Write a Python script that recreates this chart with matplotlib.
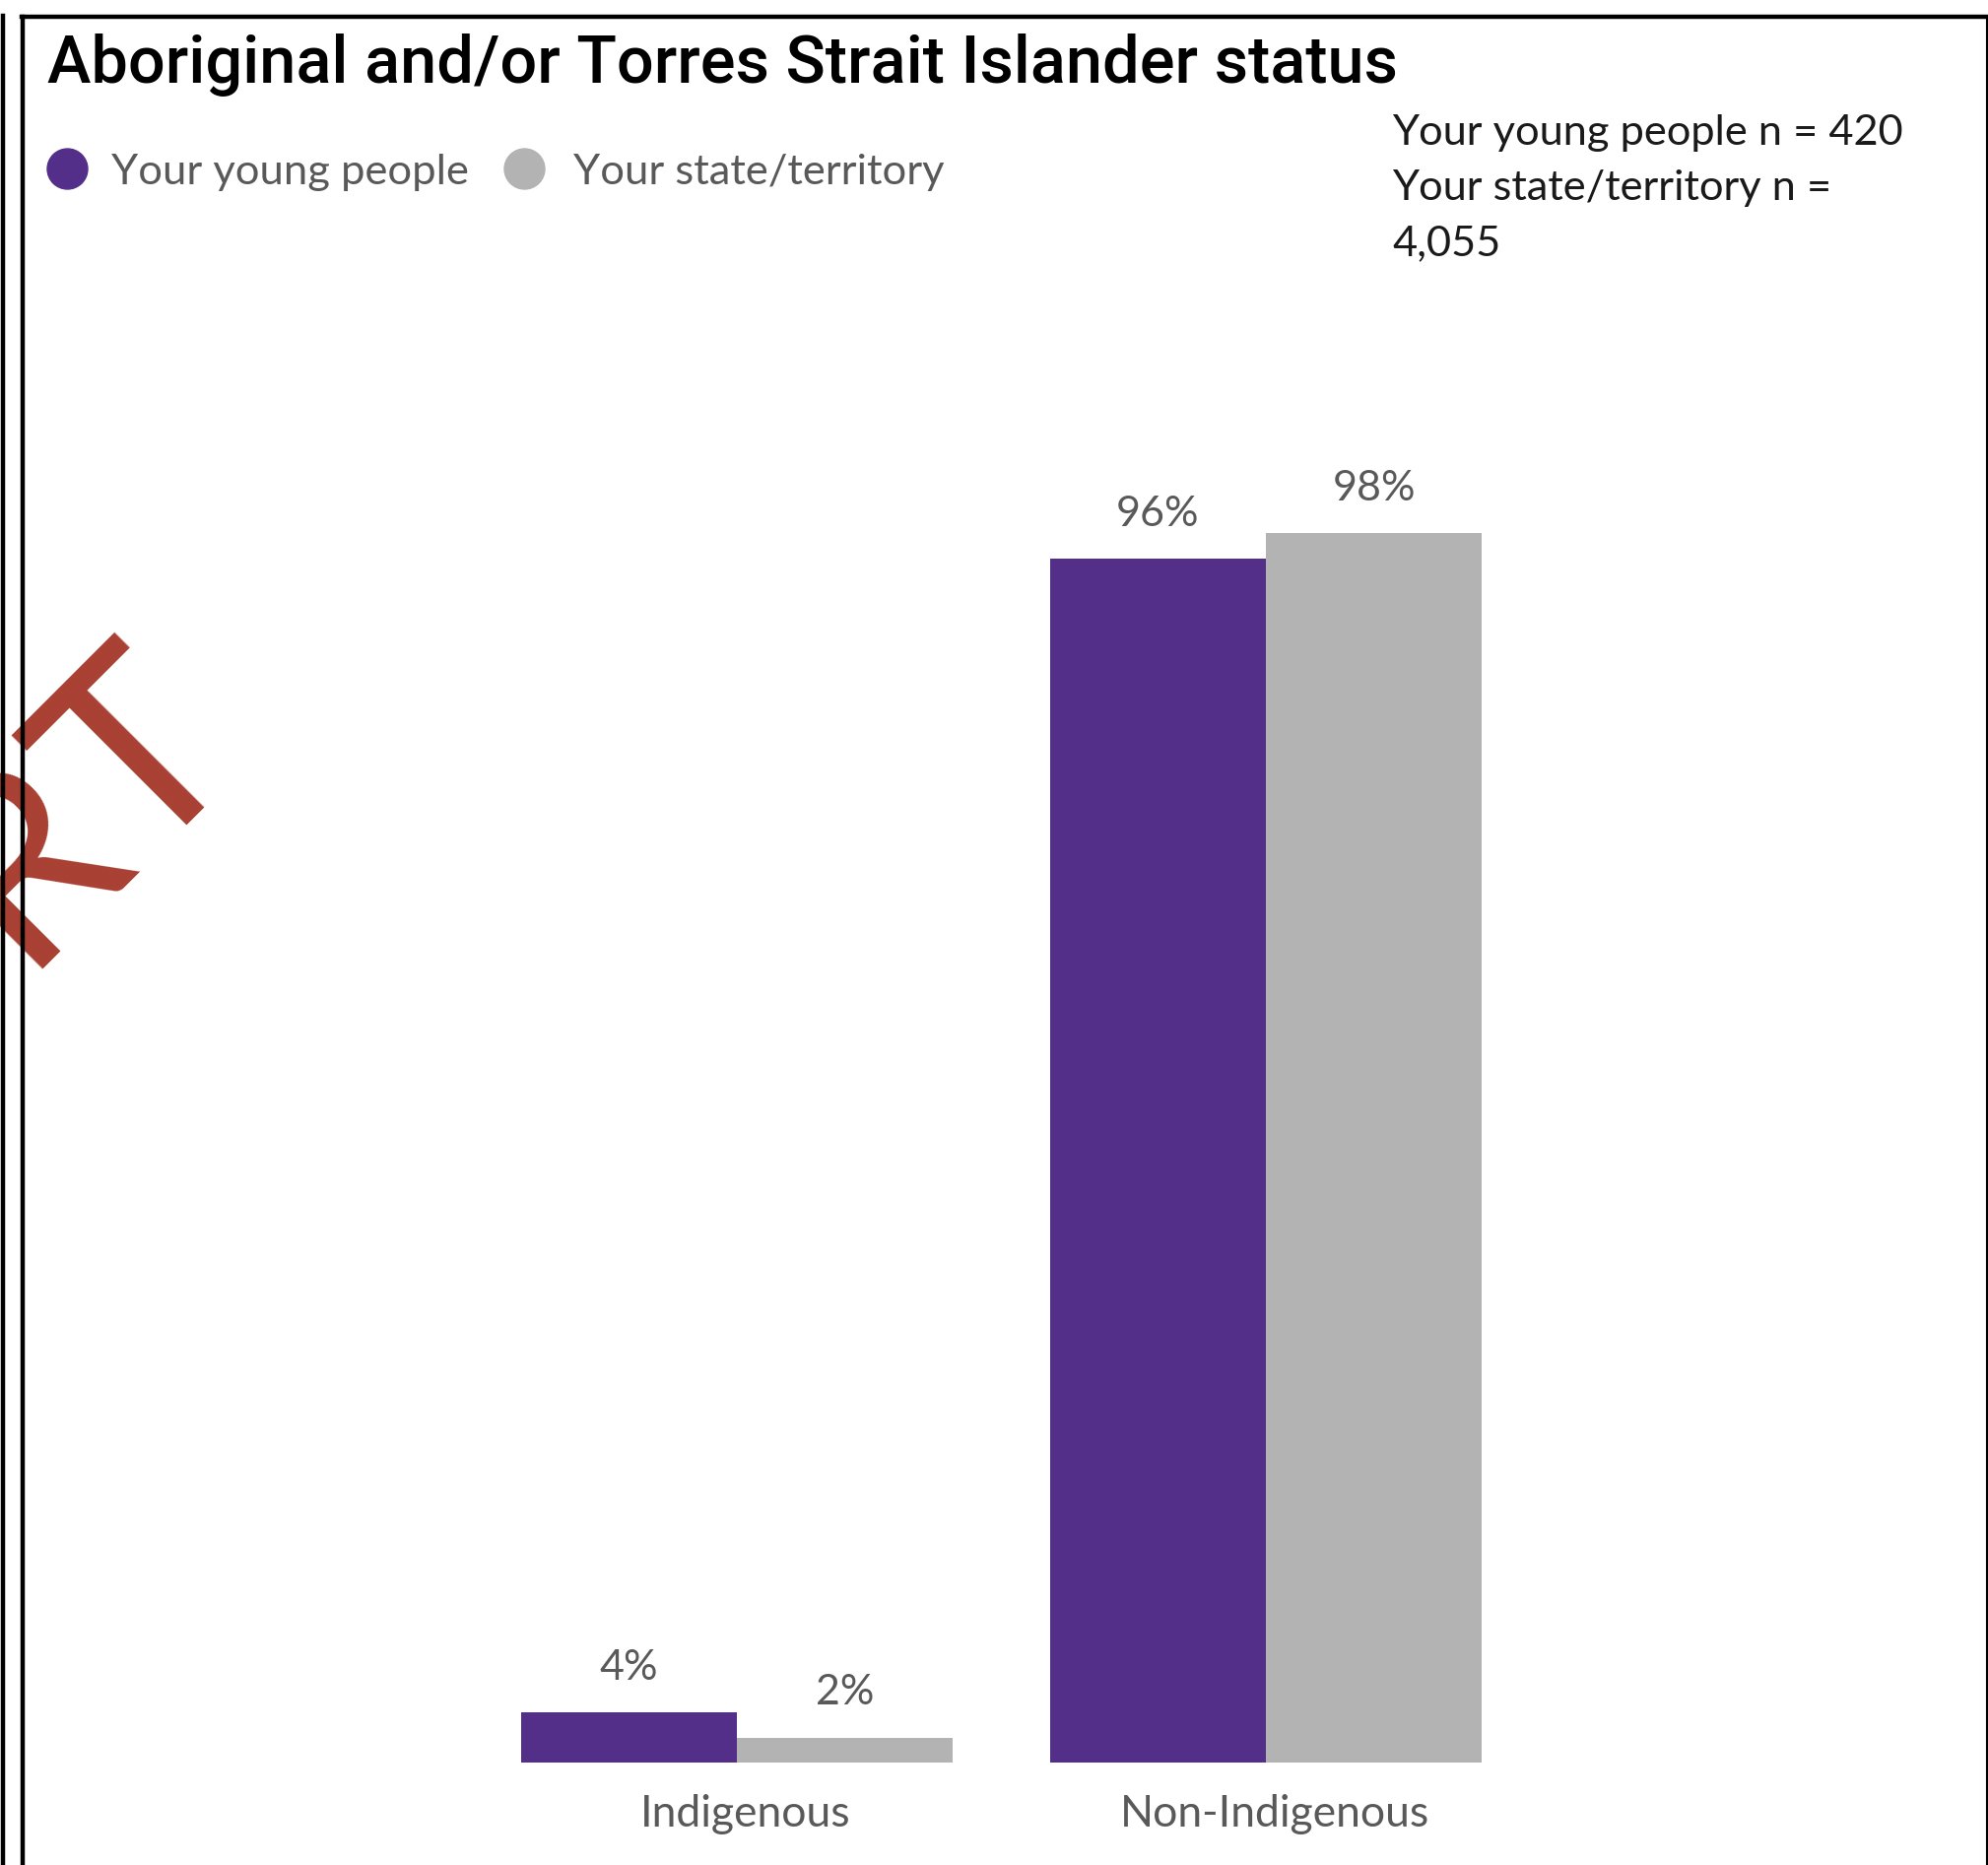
import matplotlib
matplotlib.use("Agg")
import matplotlib.pyplot as plt
from matplotlib.lines import Line2D
from matplotlib.transforms import ScaledTranslation
import numpy as np

# data
categories = ["Indigenous", "Non-Indigenous"]
series_names = ["Your young people", "Your state/territory"]
young_people = [4, 96]
state_territory = [2, 98]
n_lines = ["Your young people n = 420", "Your state/territory n =", "4,055"]
title = "Aboriginal and/or Torres Strait Islander status"

PURPLE, GREY = "#532F8A", "#B3B3B3"
LABEL = "#595959"
W, H = 2018, 1893
BODY = ["Lato", "DejaVu Sans"]

fig = plt.figure(figsize=(W / 100, H / 100), dpi=100)

def fx(px):  # pixel from left -> figure fraction
    return px / W

def fy(py):  # pixel from top -> figure fraction
    return 1 - py / H

# watermark fragment, clipped at the left edge
fig.text(fx(254), fy(773), "DRAFT REPORT", rotation=45, rotation_mode="anchor",
         ha="right", va="baseline", fontsize=190, color="#A84032",
         family=BODY, zorder=0)

# plot area: baseline at y=1789 px, 12.73 px per percent
ax = fig.add_axes([fx(100), fy(1789), fx(1950) - fx(100), fy(300) - fy(1789)])
x = np.arange(len(categories))
bw = 0.408
b1 = ax.bar(x - bw / 2, young_people, bw, color=PURPLE, label=series_names[0])
b2 = ax.bar(x + bw / 2, state_territory, bw, color=GREY, label=series_names[1])
for bars in (b1, b2):
    ax.bar_label(bars, labels=[f"{v}%" for v in bars.datavalues], padding=19,
                 fontsize=31, color=LABEL, family=BODY)

ax.set_xlim((100 - 748) / 537, (1950 - 748) / 537)
ax.set_ylim(0, 1489 / 12.73)
ax.set_xticks(x)
ax.set_xticklabels(categories, fontsize=32, color=LABEL, family=BODY)
ax.tick_params(axis="x", length=0, pad=23)
shift = ScaledTranslation(9 / 100, 0, fig.dpi_scale_trans)
for lab in ax.get_xticklabels():
    lab.set_transform(lab.get_transform() + shift)
ax.set_yticks([])
for s in ax.spines.values():
    s.set_visible(False)
ax.patch.set_alpha(0)

# title
fig.text(fx(48), fy(84), title, fontsize=48, fontweight="medium",
         family=["Roboto", "DejaVu Sans"], color="black", va="baseline")

# legend: round markers + labels
for cx, tx, col, name in [(68, 113, PURPLE, series_names[0]),
                          (532, 582, GREY, series_names[1])]:
    fig.add_artist(Line2D([fx(cx)], [fy(171)], marker="o", ms=29.5, color=col,
                          linestyle="none", transform=fig.transFigure))
    fig.text(fx(tx), fy(187), name, fontsize=31.3, color=LABEL, family=BODY,
             va="baseline")

# sample sizes
for i, line in enumerate(n_lines):
    fig.text(fx(1413), fy(147 + 56 * i), line, fontsize=31.2, color="#1a1a1a",
             family=BODY, va="baseline")

# page frame
frame = dict(color="black", transform=fig.transFigure, zorder=10)
fig.add_artist(Line2D([fx(2.5), fx(2.5)], [0, fy(16)], lw=3.2, **frame))
fig.add_artist(Line2D([fx(23), fx(23)], [0, fy(17)], lw=3.2, **frame))
fig.add_artist(Line2D([fx(21.5), 1], [fy(17), fy(17)], lw=3.2, **frame))
fig.add_artist(Line2D([fx(2016.5), fx(2016.5)], [0, fy(17)], lw=1.5, **frame))

fig.savefig("out.png", dpi=100)
